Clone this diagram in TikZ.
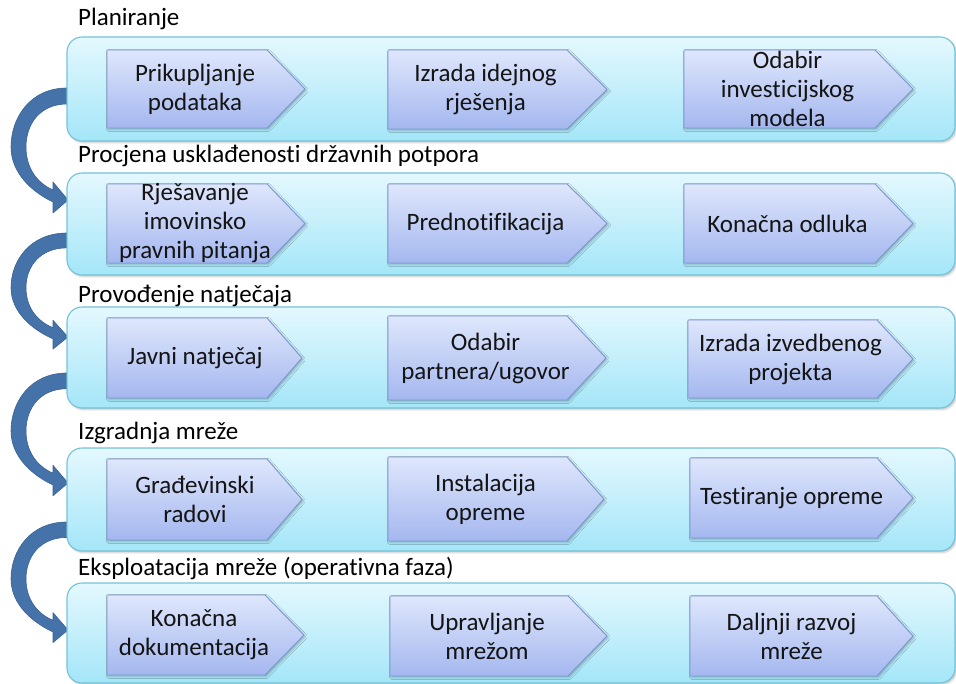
\documentclass[tikz,border=0pt]{standalone}
\usepackage{fontspec}
\setmainfont[Ligatures={NoCommon}]{Carlito}
\usetikzlibrary{shadows.blur}
\definecolor{boxtop}{HTML}{E4F8FE}
\definecolor{boxbot}{HTML}{A4E6F8}
\definecolor{boxline}{HTML}{74C2D8}
\definecolor{chtop}{HTML}{DFE7FC}
\definecolor{chbot}{HTML}{A4B7EF}
\definecolor{chline}{HTML}{7B97D0}
\definecolor{arrfill}{HTML}{4672AA}
\definecolor{arrline}{HTML}{3A6292}
\tikzset{
  groupbox/.style={draw=boxline, line width=1.1pt, rounded corners=15pt, top color=boxtop, bottom color=boxbot,
    blur shadow={shadow xshift=1.5pt, shadow yshift=-1.5pt, shadow blur steps=4, shadow opacity=25}},
  chev/.style={draw=chline, line width=0.9pt, top color=chtop, bottom color=chbot,
    blur shadow={shadow xshift=1.5pt, shadow yshift=-1.5pt, shadow blur steps=4, shadow opacity=25}},
  chtext/.style={align=center, font=\fontsize{25}{29}\selectfont, text=black!92, inner sep=0pt},
  title/.style={anchor=base west, font=\fontsize{25}{29}\selectfont, inner sep=0pt},
  curvearrow/.style={fill=arrfill, draw=arrline, line width=0.6pt, line join=round}
}
% #1 band top y, #2 drop to tip
\newcommand\bigcurvearrow[2]{%
  \begin{scope}[shift={(0,#1)}, yscale=#2/112]
    \path[curvearrow] (67,0) .. controls (30,0) and (11,30) .. (11,59)
      .. controls (11,85) and (32,104) .. (53,114) -- (53,125) -- (68,112) -- (53,94) -- (53,102)
      .. controls (37,95) and (26,80) .. (26,59)
      .. controls (26,36) and (40,16) .. (67,16) -- cycle;
  \end{scope}}
% chevron: #1 left x, #2 rect end x, #3 tip x, #4 top y, #5 bottom y, #6 name, #7 text
\newcommand\chevron[7]{%
  \path[chev] (#1,#4) -- (#2,#4) -- (#3,{(#4+#5)/2}) -- (#2,#5) -- (#1,#5) -- cycle;
  \node[chtext] (#6) at ({(#1+#2)/2+8},{(#4+#5)/2}) {#7};}
\begin{document}
\begin{tikzpicture}[x=1pt,y=-1pt]
\useasboundingbox (0,0) rectangle (956,684);
% arrows (behind boxes)
\bigcurvearrow{88}{112}
\bigcurvearrow{233}{104}
\bigcurvearrow{373}{110}
\bigcurvearrow{522}{108}
% group boxes
\path[groupbox] (67,37) rectangle (955,141);
\path[groupbox] (67,173) rectangle (955,275);
\path[groupbox] (67,307) rectangle (955,408);
\path[groupbox] (67,448) rectangle (955,551);
\path[groupbox] (67,583) rectangle (955,683);
% titles
\node[title] (t1) at (78,26) {Planiranje};
\node[title] (t2) at (78,163) {Procjena usklađenosti državnih potpora};
\node[title] (t3) at (78,303) {Provođenje natječaja};
\node[title] (t4) at (78,439) {Izgradnja mreže};
\node[title] (t5) at (78,575) {Eksploatacija mreže (operativna faza)};
% row 1
\chevron{107}{267}{305}{50}{128}{a1}{Prikupljanje\\podataka}
\chevron{388}{567}{607}{50}{129}{a2}{Izrada idejnog\\rješenja}
\chevron{684}{875}{913}{50}{128}{a3}{Odabir\\investicijskog\\modela}
% row 2
\chevron{107}{267}{305}{184}{263}{b1}{Rješavanje\\imovinsko\\pravnih pitanja}
\chevron{388}{567}{607}{184}{263}{b2}{Prednotifikacija}
\chevron{684}{875}{913}{184}{263}{b3}{Konačna odluka}
% row 3
\chevron{107}{267}{302}{318}{398}{c1}{Javni natječaj}
\chevron{388}{567}{606}{316}{400}{c2}{Odabir\\partnera/ugovor}
\chevron{688}{877}{913}{320}{398}{c3}{Izrada izvedbenog\\projekta}
% row 4
\chevron{107}{267}{302}{459}{540}{d1}{Građevinski\\radovi}
\chevron{388}{567}{604}{457}{541}{d2}{Instalacija\\opreme}
\chevron{690}{877}{913}{458}{538}{d3}{Testiranje opreme}
% row 5
\chevron{107}{265}{304}{595}{675}{e1}{Konačna\\dokumentacija}
\chevron{390}{568}{607}{596}{676}{e2}{Upravljanje\\mrežom}
\chevron{690}{877}{913}{596}{676}{e3}{Daljnji razvoj\\mreže}
\end{tikzpicture}
\end{document}
